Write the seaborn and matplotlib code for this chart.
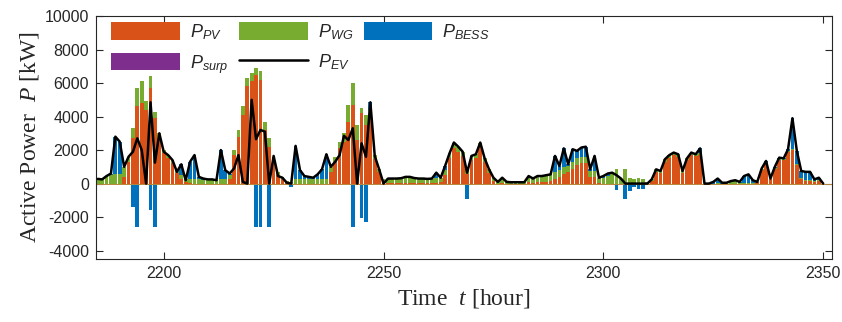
import numpy as np
import matplotlib
matplotlib.use("Agg")
import matplotlib.pyplot as plt
import seaborn as sns
from matplotlib.patches import Patch
from matplotlib.lines import Line2D

# Hourly time axis
hours = np.arange(2185, 2351)

# Power series [kW], one value per hour
p_pv = [
    0, 0, 0, 0, 0, 0, 400, 1300, 2700, 4600,
    4800, 4400, 5700, 3900, 2700, 1800, 1500, 1200, 650, 300,
    100, 50, 0, 0, 0, 0, 0, 0, 0, 0,
    300, 1700, 2800, 4100, 5800, 6100, 6500, 6200, 3200, 2200,
    1300, 500, 250, 50, 0, 0, 0, 0, 0, 0,
    0, 0, 0, 700, 1300, 2100, 2500, 3700, 4700, 2600,
    4200, 3500, 4100, 1450, 700, 50, 50, 50, 50, 50,
    50, 50, 50, 50, 50, 50, 50, 50, 100, 500,
    1500, 2150, 1900, 1650, 600, 1400, 1500, 2200, 1300, 650,
    150, 0, 50, 0, 0, 0, 0, 0, 100, 50,
    100, 100, 100, 150, 300, 400, 600, 700, 900, 1100,
    1200, 1200, 400, 400, 50, 0, 0, 0, 0, 0,
    0, 0, 0, 0, 0, 0, 150, 700, 650, 1300,
    1550, 1700, 1600, 650, 1400, 1700, 1650, 1700, 0, 0,
    0, 0, 0, 0, 0, 0, 0, 0, 0, 0,
    100, 800, 1250, 250, 900, 1400, 1400, 1900, 2000, 1100,
    300, 150, 150, 100, 150, 0,
]
p_wg = [
    250, 250, 400, 500, 600, 550, 600, 300, 600, 1100,
    1300, 500, 700, 400, 300, 200, 200, 200, 200, 200,
    200, 250, 250, 250, 200, 200, 200, 150, 300, 300,
    200, 300, 400, 500, 500, 500, 400, 500, 500, 500,
    300, 200, 150, 100, 100, 300, 300, 300, 300, 300,
    300, 300, 300, 300, 300, 400, 500, 1000, 1300, 900,
    300, 600, 300, 250, 200, 250, 250, 250, 250, 300,
    350, 350, 300, 250, 250, 250, 250, 300, 250, 300,
    300, 300, 300, 250, 400, 250, 250, 250, 200, 200,
    200, 100, 300, 100, 80, 80, 80, 80, 350, 250,
    350, 350, 400, 400, 400, 400, 400, 350, 400, 400,
    400, 400, 350, 350, 300, 350, 450, 600, 850, 300,
    850, 350, 300, 350, 300, 100, 100, 150, 100, 150,
    150, 150, 150, 100, 100, 150, 100, 100, 0, 0,
    0, 50, 0, 50, 100, 150, 50, 50, 50, 50,
    0, 50, 50, 0, 50, 50, 50, 50, 50, 50,
    50, 50, 50, 50, 50, 0,
]
p_bess = [
    0, 0, 50, 100, 2200, 1950, 0, 0, -1400, -2600,
    0, 0, -1600, -2600, 0, 0, 0, 0, 0, 650,
    0, 1000, 1450, 150, 100, 50, 50, 50, 1700, 500,
    100, 0, 0, 0, 0, 0, -2600, -2600, 0, -2600,
    0, 0, 0, 0, -200, 1950, 500, 150, 100, 50,
    250, 550, 1450, 0, 0, 0, 0, 0, -2600, 0,
    -2050, -2300, 450, 0, 0, 0, 0, 0, 0, 0,
    0, 0, 0, 0, 0, 0, 0, 300, 0, 250,
    0, 0, 0, 0, -900, 0, 0, 0, 0, 0,
    0, 0, 0, 0, 0, 0, 0, 0, 0, 0,
    0, 0, 0, 0, 950, 250, 1100, 100, 750, 450,
    550, 600, 100, 900, 0, 100, 150, 50, -360, 0,
    -920, -460, -200, -320, -320, 0, 0, 0, 0, 0,
    0, 0, 0, 0, 0, 0, 0, 300, 0, 0,
    100, 250, 50, 0, 50, 50, 50, 400, 500, 150,
    0, 50, 50, 50, 50, 100, 50, 100, 1850, 800,
    400, 500, 500, 100, 150, 0,
]
p_surp = [0] * len(hours)
p_ev = [
    280, 250, 450, 600, 2800, 2500, 1000, 1600, 1900, 2700,
    2000, 0, 4850, 1250, 3000, 1900, 1700, 1400, 700, 1150,
    200, 1300, 1700, 400, 300, 250, 250, 200, 2000, 800,
    600, 900, 1700, 100, 0, 5000, 2650, 3200, 3100, 0,
    1650, 450, 350, 50, 0, 2250, 800, 450, 400, 350,
    550, 850, 1750, 1000, 1300, 1700, 2850, 2600, 3300, 0,
    2400, 1600, 4850, 1650, 850, 0, 300, 300, 300, 320,
    400, 400, 330, 300, 300, 280, 300, 650, 350, 1050,
    1800, 2450, 2200, 1900, 650, 1650, 1750, 2450, 1500, 850,
    350, 100, 350, 100, 80, 80, 80, 80, 450, 300,
    450, 450, 500, 550, 1650, 1050, 2100, 1150, 2050, 1950,
    2150, 2200, 850, 1650, 350, 450, 600, 650, 500, 300,
    0, 0, 0, 0, 0, 0, 250, 850, 750, 1450,
    1700, 1850, 1750, 750, 1500, 1850, 1750, 2100, 0, 0,
    100, 300, 50, 50, 150, 200, 100, 450, 550, 200,
    100, 900, 1350, 300, 1000, 1550, 1500, 2050, 3900, 1950,
    750, 700, 700, 250, 350, 0,
]

x_ticks = [2200, 2250, 2300, 2350]
y_ticks = [-4000, -2000, 0, 2000, 4000, 6000, 8000, 10000]

C_PV, C_WG, C_BESS, C_SURP = "#D95319", "#77AC30", "#0072BD", "#7E2F8E"
INK = "#262626"

sns.set_style("ticks")
plt.rcParams.update({
    "font.family": ["Liberation Sans", "DejaVu Sans"],
    "mathtext.fontset": "custom",
    "mathtext.rm": "Liberation Serif",
    "mathtext.it": "Liberation Serif:italic",
    "mathtext.sf": "Liberation Sans:italic",
    "axes.unicode_minus": False,
})

pv = np.array(p_pv, float)
wg = np.array(p_wg, float)
bess = np.array(p_bess, float)
surp = np.array(p_surp, float)
bess_pos = np.clip(bess, 0, None)
bess_neg = np.clip(bess, None, 0)

fig = plt.figure(figsize=(8.42, 3.22), dpi=100)
ax = fig.add_axes([96 / 842, 1 - 259 / 322, (832 - 96) / 842, (259 - 16) / 322])

w = 0.85
ax.bar(hours, pv, width=w, color=C_PV, linewidth=0)
ax.bar(hours, wg, width=w, bottom=pv, color=C_WG, linewidth=0)
ax.bar(hours, bess_pos, width=w, bottom=pv + wg, color=C_BESS, linewidth=0)
ax.bar(hours, bess_neg, width=w, color=C_BESS, linewidth=0)
ax.bar(hours, surp, width=w, bottom=pv + wg + bess_pos, color=C_SURP, linewidth=0)
ax.axhline(0, color="#B8863A", lw=0.7, zorder=1.5)

sns.lineplot(x=hours, y=p_ev, ax=ax, color="black", linewidth=1.8, legend=False, zorder=3)

ax.set_xlim(2184.6, 2352)
ax.set_ylim(-4500, 10000)
ax.set_xticks(x_ticks)
ax.set_yticks(y_ticks)
ax.tick_params(direction="in", top=True, right=True, length=5, width=0.8,
               colors=INK, labelsize=11.5, pad=5)
for s in ax.spines.values():
    s.set_visible(True)
    s.set_color(INK)
    s.set_linewidth(0.8)

ax.set_xlabel("Time  $t$ [hour]", fontfamily="Liberation Serif", fontsize=17,
              color=INK, labelpad=4)
ax.set_ylabel("Active Power  $P$ [kW]", fontfamily="Liberation Serif", fontsize=17,
              color=INK, labelpad=3)

handles = [
    Patch(facecolor=C_PV, linewidth=0),
    Patch(facecolor=C_SURP, linewidth=0),
    Patch(facecolor=C_WG, linewidth=0),
    Line2D([], [], color="black", linewidth=1.8),
    Patch(facecolor=C_BESS, linewidth=0),
]
labels = [
    r"$\mathsf{P}_{\mathsf{PV}}$",
    r"$\mathsf{P}_{\mathsf{surp}}$",
    r"$\mathsf{P}_{\mathsf{WG}}$",
    r"$\mathsf{P}_{\mathsf{EV}}$",
    r"$\mathsf{P}_{\mathsf{BESS}}$",
]
leg = ax.legend(handles, labels, ncol=3, loc="upper left",
                bbox_to_anchor=(0.021, 0.975), frameon=False, fontsize=13,
                handlelength=3.8, handleheight=1.1, handletextpad=0.55,
                columnspacing=0.6, labelspacing=0.6, borderaxespad=0, borderpad=0)
for t in leg.get_texts():
    t.set_color(INK)

fig.savefig("out.png", dpi=100)
